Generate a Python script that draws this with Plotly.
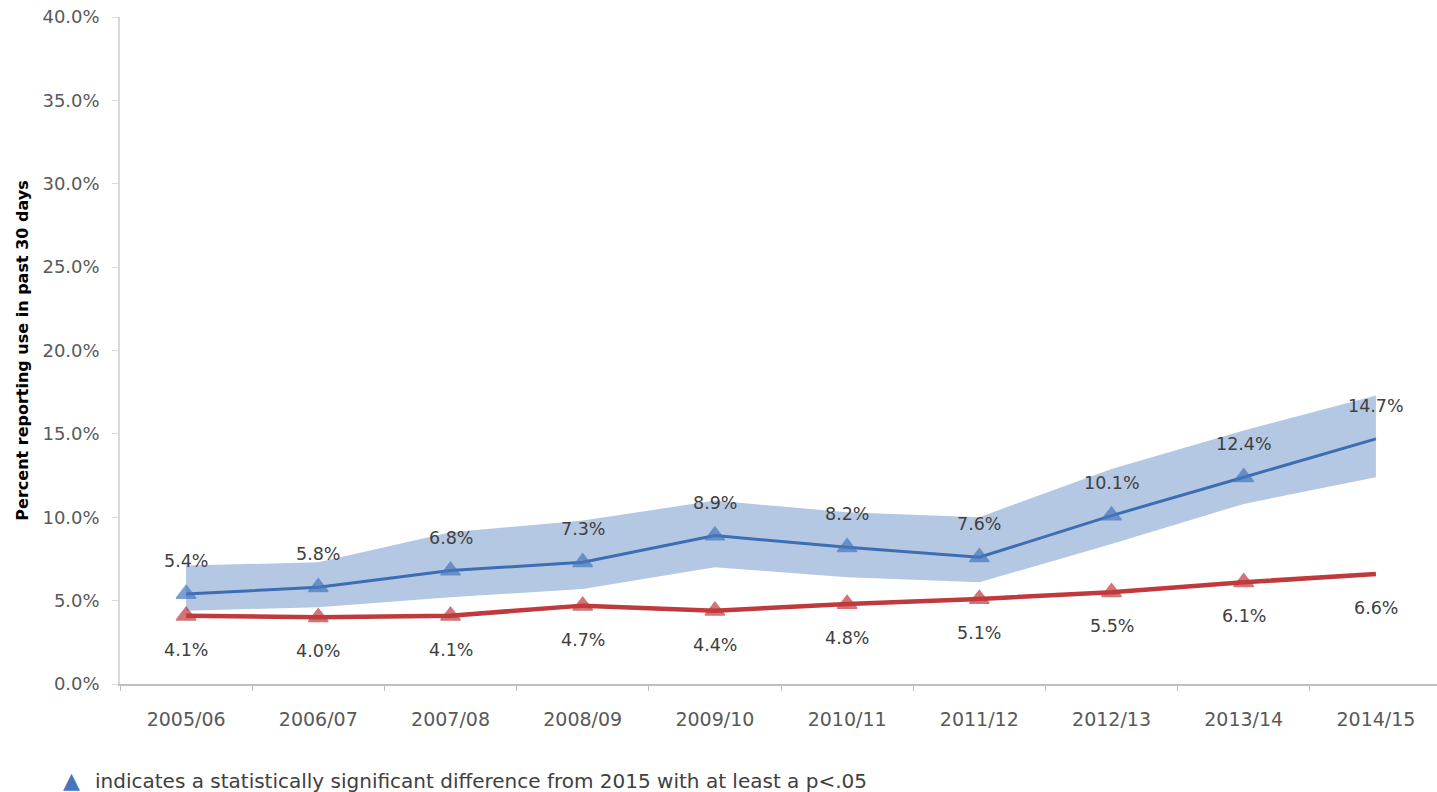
import plotly.graph_objects as go

# School years on the category axis
years = ["2005/06", "2006/07", "2007/08", "2008/09", "2009/10",
         "2010/11", "2011/12", "2012/13", "2013/14", "2014/15"]

# Blue series with its 95% confidence band (percent)
blue_pct = [5.4, 5.8, 6.8, 7.3, 8.9, 8.2, 7.6, 10.1, 12.4, 14.7]
blue_ci_low = [4.4, 4.6, 5.2, 5.7, 7.0, 6.4, 6.1, 8.4, 10.8, 12.4]
blue_ci_high = [7.1, 7.3, 9.1, 9.8, 11.0, 10.3, 10.0, 12.9, 15.2, 17.3]

# Red comparison series (percent)
red_pct = [4.1, 4.0, 4.1, 4.7, 4.4, 4.8, 5.1, 5.5, 6.1, 6.6]

# Whether the year differs significantly from 2015
significant = [True] * 9 + [False]

y_ticks = [0, 5, 10, 15, 20, 25, 30, 35, 40]

BLUE_LINE = "#3d6db3"
BLUE_MARK = "#4677be"
BAND = "#b5c8e3"
RED = "#c0393c"
FONT = "DejaVu Sans"
LABEL_COLOR = "#404040"
TICK_COLOR = "#595959"

fig = go.Figure()

# Confidence band: lower edge, then upper edge filled down to it
fig.add_trace(go.Scatter(x=years, y=blue_ci_low, mode="lines",
                         line=dict(width=0, color=BAND), hoverinfo="skip",
                         showlegend=False))
fig.add_trace(go.Scatter(x=years, y=blue_ci_high, mode="lines",
                         line=dict(width=0, color=BAND), fill="tonexty",
                         fillcolor=BAND, hoverinfo="skip", showlegend=False))

marker_sizes = [17 if s else 0 for s in significant]
marker_lines = [1.5 if s else 0 for s in significant]

fig.add_trace(go.Scatter(x=years, y=red_pct, mode="lines+markers",
                         line=dict(color=RED, width=4.5),
                         marker=dict(symbol="triangle-up", size=marker_sizes,
                                     color=RED,
                                     line=dict(color=RED, width=marker_lines)),
                         showlegend=False))
fig.add_trace(go.Scatter(x=years, y=blue_pct, mode="lines+markers",
                         line=dict(color=BLUE_LINE, width=3),
                         marker=dict(symbol="triangle-up", size=marker_sizes,
                                     color=BLUE_MARK,
                                     line=dict(color=BLUE_MARK,
                                               width=marker_lines)),
                         showlegend=False))

annotations = []
for yr, v in zip(years, blue_pct):
    annotations.append(dict(x=yr, y=v, xref="x", yref="y", text=f"{v:.1f}%",
                            showarrow=False, yshift=33,
                            font=dict(family=FONT, size=17.5,
                                      color=LABEL_COLOR)))
for yr, v in zip(years, red_pct):
    annotations.append(dict(x=yr, y=v, xref="x", yref="y", text=f"{v:.1f}%",
                            showarrow=False, yshift=-34,
                            font=dict(family=FONT, size=17.5,
                                      color=LABEL_COLOR)))

# Footnote explaining the triangle markers
annotations.append(dict(x=-0.0448, y=-0.1454, xref="paper", yref="paper",
                        xanchor="left", yanchor="middle", showarrow=False,
                        text="▲",
                        font=dict(family=FONT, size=22, color=BLUE_MARK)))
annotations.append(dict(x=-0.0205, y=-0.1454, xref="paper", yref="paper",
                        xanchor="left", yanchor="middle", showarrow=False,
                        text="indicates a statistically significant difference "
                             "from 2015 with at least a p<.05",
                        font=dict(family=FONT, size=20, color="#404040")))

fig.update_layout(
    width=1437, height=792,
    margin=dict(l=120, r=0, t=17, b=108),
    paper_bgcolor="white", plot_bgcolor="white",
    annotations=annotations,
    xaxis=dict(type="category", range=[-0.5, 9.462],
               showline=True, linecolor="#bfbfbf", linewidth=1.5,
               ticks="outside", tickson="boundaries", ticklen=5,
               tickcolor="#bfbfbf", showgrid=False, zeroline=False,
               ticklabelstandoff=17,
               tickfont=dict(family=FONT, size=19, color=TICK_COLOR)),
    yaxis=dict(range=[0, 40], tickvals=y_ticks,
               ticktext=[f"{t:.1f}%" for t in y_ticks],
               showline=True, linecolor="#d9d9d9", linewidth=1.5,
               ticks="outside", ticklen=6, tickcolor="#d9d9d9",
               showgrid=False, zeroline=False, ticklabelstandoff=9,
               tickfont=dict(family=FONT, size=18, color=TICK_COLOR),
               title=dict(text="<b>Percent reporting use in past 30 days</b>",
                          font=dict(family=FONT, size=16, color="#000000"),
                          standoff=10)),
)

fig.write_html("out.html")
